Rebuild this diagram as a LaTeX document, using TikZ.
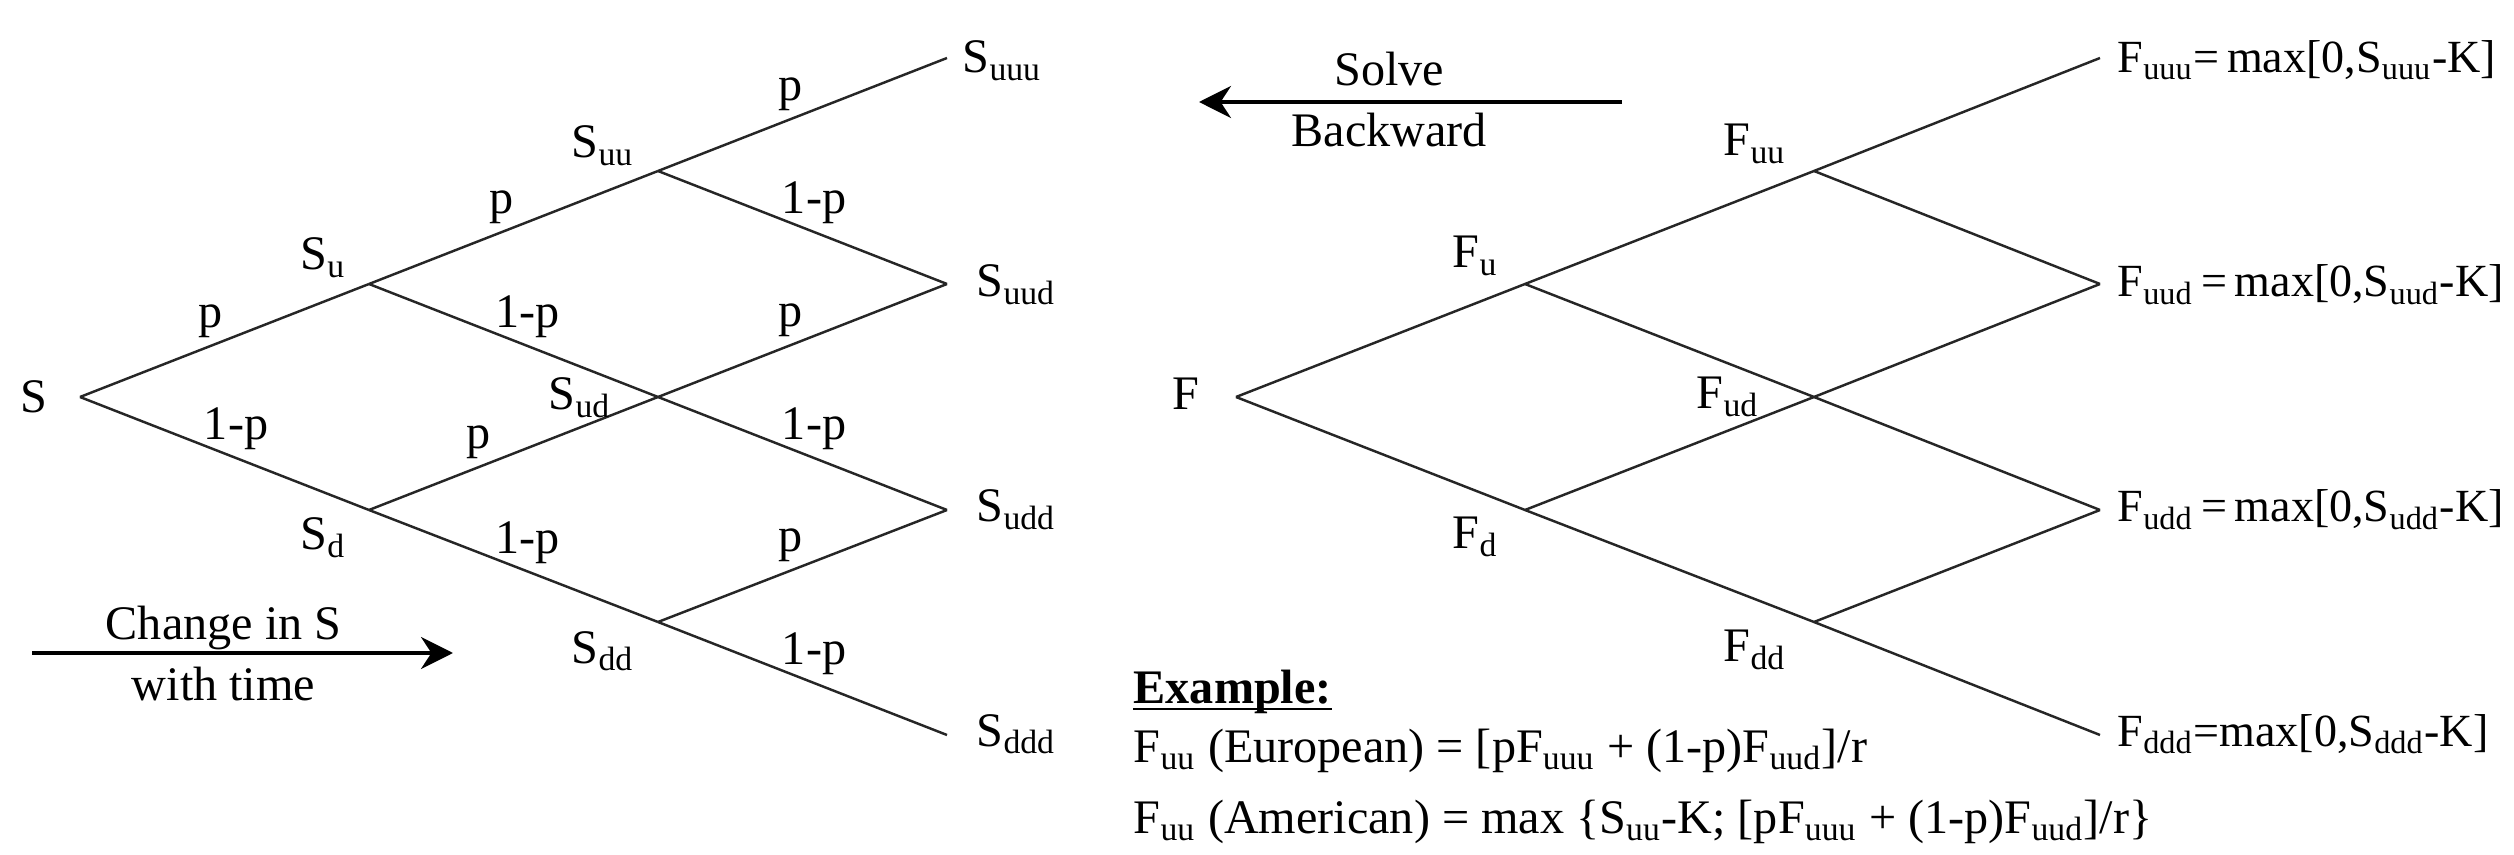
\documentclass[tikz,border=0pt]{standalone}
\usepackage{fontspec}
\setmainfont{Liberation Serif}
\usepackage{tikz}
\usetikzlibrary{arrows.meta, positioning}

\begin{document}
\begin{tikzpicture}[
  x=0.01cm, y=-0.01cm,
  font=\fontsize{13.7}{16}\selectfont,
  branch/.style={line width=0.7pt, draw=black!85},
  lbl/.style={anchor=base west, inner sep=0pt},
  payoff/.style={lbl, font=\fontsize{13.1}{16}\selectfont},
  prob/.style={above=1pt, inner sep=1pt},
  arrow/.style={->, line width=0.95pt, >={Stealth[length=3.2mm, width=3.2mm]}}
]
\useasboundingbox (0,0) rectangle (2514,855);

% stock price tree
\coordinate (s) at (80,397);
\coordinate (su) at (369,284);
\coordinate (sd) at (369,510);
\coordinate (suu) at (658,171);
\coordinate (sud) at (658,397);
\coordinate (sdd) at (658,622);
\coordinate (suuu) at (947,58);
\coordinate (suud) at (947,284);
\coordinate (sudd) at (947,510);
\coordinate (sddd) at (947,735);

\draw[branch] (s) -- node[prob, pos=0.45] (p1) {p} (su);
\draw[branch] (s) -- node[prob, pos=0.54] (q1) {1-p} (sd);
\draw[branch] (su) -- node[prob, pos=0.46] (p2) {p} (suu);
\draw[branch] (su) -- node[prob, pos=0.55] (q2) {1-p} (sud);
\draw[branch] (sd) -- node[prob, pos=0.38] (p3) {p} (sud);
\draw[branch] (sd) -- node[prob, pos=0.55] (q3) {1-p} (sdd);
\draw[branch] (suu) -- node[prob, pos=0.46] (p4) {p} (suuu);
\draw[branch] (suu) -- node[prob, pos=0.54] (q4) {1-p} (suud);
\draw[branch] (sud) -- node[prob, pos=0.46] (p5) {p} (suud);
\draw[branch] (sud) -- node[prob, pos=0.54] (q5) {1-p} (sudd);
\draw[branch] (sdd) -- node[prob, pos=0.46] (p6) {p} (sudd);
\draw[branch] (sdd) -- node[prob, pos=0.54] (q6) {1-p} (sddd);

\node[lbl] (ls) at (20,413) {S};
\node[lbl] (lsu) at (300,270) {S\textsubscript{u}};
\node[lbl] (lsd) at (300,550) {S\textsubscript{d}};
\node[lbl] (lsuu) at (571,158) {S\textsubscript{uu}};
\node[lbl] (lsud) at (548,410) {S\textsubscript{ud}};
\node[lbl] (lsdd) at (571,663) {S\textsubscript{dd}};
\node[lbl] (lsuuu) at (962,73) {S\textsubscript{uuu}};
\node[lbl] (lsuud) at (976,297) {S\textsubscript{uud}};
\node[lbl] (lsudd) at (976,522) {S\textsubscript{udd}};
\node[lbl] (lsddd) at (976,746) {S\textsubscript{ddd}};

% option value tree
\coordinate (f) at (1236,397);
\coordinate (fu) at (1525,284);
\coordinate (fd) at (1525,510);
\coordinate (fuu) at (1814,171);
\coordinate (fud) at (1814,397);
\coordinate (fdd) at (1814,622);
\coordinate (fuuu) at (2100,58);
\coordinate (fuud) at (2100,284);
\coordinate (fudd) at (2100,510);
\coordinate (fddd) at (2100,735);

\draw[branch] (f) -- (fu) -- (fuu) -- (fuuu);
\draw[branch] (f) -- (fd) -- (fdd) -- (fddd);
\draw[branch] (fu) -- (fud) -- (fudd);
\draw[branch] (fd) -- (fud) -- (fuud);
\draw[branch] (fuu) -- (fuud);
\draw[branch] (fdd) -- (fudd);

\node[lbl] (lf) at (1172,410) {F};
\node[lbl] (lfu) at (1452,268) {F\textsubscript{u}};
\node[lbl] (lfd) at (1452,549) {F\textsubscript{d}};
\node[lbl] (lfuu) at (1723,156) {F\textsubscript{uu}};
\node[lbl] (lfud) at (1696,409) {F\textsubscript{ud}};
\node[lbl] (lfdd) at (1723,662) {F\textsubscript{dd}};
\node[payoff] (lfuuu) at (2117,73) {F\textsubscript{uuu}=\,max[0,S\textsubscript{uuu}-K]};
\node[payoff] (lfuud) at (2117,297) {F\textsubscript{uud}\,=\,max[0,S\textsubscript{uud}-K]};
\node[payoff] (lfudd) at (2117,522) {F\textsubscript{udd}\,=\,max[0,S\textsubscript{udd}-K]};
\node[payoff] (lfddd) at (2117,746) {F\textsubscript{ddd}=max[0,S\textsubscript{ddd}-K]};

% direction arrows
\coordinate (fwdA) at (32,653);
\coordinate (fwdB) at (453,653);
\draw[arrow] (fwdA) -- node[pos=0.455, above=0.5pt, inner sep=0pt] (chg) {Change in S}
  node[pos=0.455, below=3.4pt, inner sep=0pt] (wtm) {with time} (fwdB);
\coordinate (bwdA) at (1622,102);
\coordinate (bwdB) at (1199,102);
\draw[arrow] (bwdA) -- node[pos=0.55, above=4pt, inner sep=0pt] (slv) {Solve}
  node[pos=0.55, below=2.8pt, inner sep=0pt] (bkw) {Backward} (bwdB);

% example
\node[lbl, font=\fontsize{13.7}{16}\selectfont\bfseries] (ex) at (1133,703) {Example:};
\draw[line width=0.8pt] ([yshift=-1.7pt]ex.base west) -- ([yshift=-1.7pt]ex.base east);
\node[below=0.59cm of ex.base west, anchor=base west, inner sep=0pt] (eur)
  {F\textsubscript{uu} (European) = [pF\textsubscript{uuu} + (1-p)F\textsubscript{uud}]/r};
\node[below=0.71cm of eur.base west, anchor=base west, inner sep=0pt] (ame)
  {F\textsubscript{uu} (American) = max \{S\textsubscript{uu}-K; [pF\textsubscript{uuu} + (1-p)F\textsubscript{uud}]/r\}};
\end{tikzpicture}
\end{document}
